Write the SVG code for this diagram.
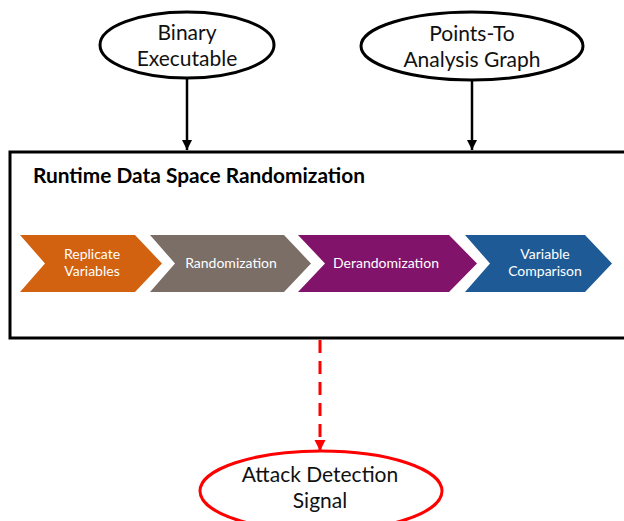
<svg xmlns="http://www.w3.org/2000/svg" width="624" height="521" viewBox="0 0 624 521">
  <defs>
    <style>
      .ell { fill: #ffffff; stroke: #000000; stroke-width: 3; }
      .ell-red { fill: #ffffff; stroke: #ff0000; stroke-width: 3; }
      .lbl { font-family: Lato, "Open Sans", sans-serif; font-size: 21px; fill: #111111; text-anchor: middle; }
      .step { font-family: Lato, "Open Sans", sans-serif; font-size: 14px; fill: #ffffff; text-anchor: middle; }
      .title { font-family: Lato, "Open Sans", sans-serif; font-size: 20px; font-weight: bold; fill: #000000; }
      .conn { fill: none; stroke: #000000; stroke-width: 2.5; }
      .conn-red { fill: none; stroke: #ff0000; stroke-width: 3; stroke-dasharray: 13 8; }
    </style>
    <marker id="arrow" viewBox="0 0 10 10" refX="10" refY="5" markerWidth="4" markerHeight="4" markerUnits="strokeWidth" orient="auto">
      <path d="M0,0 L10,5 L0,10 z" fill="#000000"/>
    </marker>
    <marker id="arrow-red" viewBox="0 0 10 10" refX="10" refY="5" markerWidth="3.8" markerHeight="3.8" markerUnits="strokeWidth" orient="auto">
      <path d="M0,0 L10,5 L0,10 z" fill="#ff0000"/>
    </marker>
  </defs>

  <rect width="624" height="521" fill="#ffffff"/>

  <!-- connectors -->
  <g id="connectors">
    <line class="conn" x1="187" y1="78" x2="187" y2="150" marker-end="url(#arrow)"/>
    <line class="conn" x1="472" y1="80" x2="472" y2="150" marker-end="url(#arrow)"/>
    <line class="conn-red" x1="320" y1="340" x2="320" y2="451" marker-end="url(#arrow-red)"/>
  </g>

  <g id="binary-executable">
    <ellipse class="ell" cx="187" cy="45" rx="87" ry="33"/>
    <text class="lbl" x="187" y="40">Binary</text>
    <text class="lbl" x="187" y="66">Executable</text>
  </g>

  <g id="points-to-graph">
    <ellipse class="ell" cx="472" cy="46" rx="111" ry="34"/>
    <text class="lbl" x="472" y="41">Points-To</text>
    <text class="lbl" x="472" y="67">Analysis Graph</text>
  </g>

  <g id="rdsr">
    <rect x="10" y="152" width="630" height="186" fill="none" stroke="#000000" stroke-width="3"/>
    <text class="title" x="33" y="183" textLength="332" lengthAdjust="spacingAndGlyphs">Runtime Data Space Randomization</text>
  </g>

  <g id="replicate-variables">
    <polygon points="20,235 135,235 162,263.5 135,292 20,292 45,263.5" fill="#d2620f"/>
    <text class="step" x="92" y="259">Replicate</text>
    <text class="step" x="92" y="276">Variables</text>
  </g>

  <g id="randomization">
    <polygon points="150,235 284,235 311,263.5 284,292 150,292 175,263.5" fill="#7b6e67"/>
    <text class="step" x="231" y="268">Randomization</text>
  </g>

  <g id="derandomization">
    <polygon points="298,235 449,235 477,263.5 449,292 298,292 325,263.5" fill="#82136b"/>
    <text class="step" x="386" y="268">Derandomization</text>
  </g>

  <g id="variable-comparison">
    <polygon points="465,235 585,235 612,263.5 585,292 465,292 490,263.5" fill="#1e5b96"/>
    <text class="step" x="545" y="259">Variable</text>
    <text class="step" x="545" y="276">Comparison</text>
  </g>

  <g id="attack-detection">
    <ellipse class="ell-red" cx="321" cy="491" rx="121" ry="40"/>
    <text class="lbl" x="320" y="482">Attack Detection</text>
    <text class="lbl" x="320" y="508">Signal</text>
  </g>
</svg>
